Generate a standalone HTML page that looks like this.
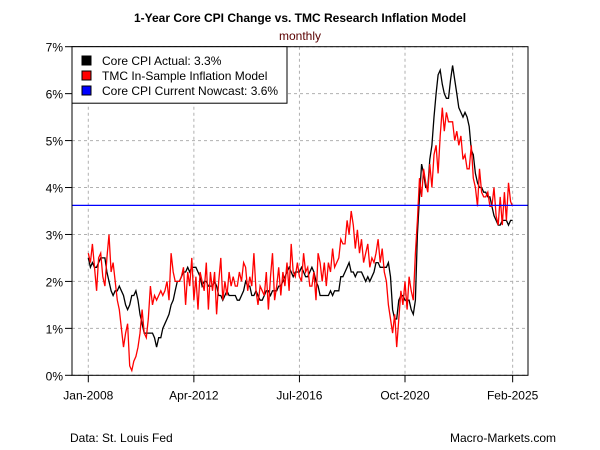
<!DOCTYPE html>
<html><head><meta charset="utf-8"><style>
body{margin:0;background:#fff;}
svg{display:block;font-family:"Liberation Sans",Arial,sans-serif;}
</style></head><body>
<svg id="chart" width="600" height="450">
<text x="300" y="22" text-anchor="middle" font-size="12" font-weight="bold">1-Year Core CPI Change vs. TMC Research Inflation Model</text>
<text x="300" y="40" text-anchor="middle" font-size="12" fill="#5a0000">monthly</text>
<g id="grid"></g>
<g id="yaxis"></g>
<g id="xaxis"></g>
<g id="series"></g>
<rect x="72" y="46.7" width="456" height="328.6" fill="none" stroke="#000"/>
<g>
<rect x="72" y="46.7" width="215" height="56.5" fill="#fff" stroke="#000"/>
<rect x="82" y="56" width="9" height="9" fill="#000" stroke="#000"/>
<text x="102" y="65" font-size="12">Core CPI Actual: 3.3%</text>
<rect x="82" y="71" width="9" height="9" fill="#f00" stroke="#000"/>
<text x="102" y="80" font-size="12">TMC In-Sample Inflation Model</text>
<rect x="82" y="86" width="9" height="9" fill="#00f" stroke="#000"/>
<text x="102" y="95" font-size="12">Core CPI Current Nowcast: 3.6%</text>
</g>
<text x="70" y="442" font-size="12">Data: St. Louis Fed</text>
<text x="556" y="442" text-anchor="end" font-size="12">Macro-Markets.com</text>
</svg>
<script>
const yTicks=[0,1,2,3,4,5,6,7];
const yTickLabels=["0%","1%","2%","3%","4%","5%","6%","7%"];
const xTickMonths=[0,51,102,153,205];
const xTickLabels=["Jan-2008","Apr-2012","Jul-2016","Oct-2020","Feb-2025"];
const nowcast=3.62;
const actual=[2.5,2.3,2.4,2.3,2.3,2.4,2.5,2.5,2.5,2.2,2.0,1.8,
1.7,1.8,1.8,1.9,1.8,1.7,1.5,1.4,1.5,1.7,1.7,1.8,
1.6,1.3,1.1,0.9,0.9,0.9,0.9,0.9,0.8,0.6,0.8,0.8,
1.0,1.1,1.2,1.3,1.5,1.6,1.8,2.0,2.0,2.1,2.2,2.2,
2.3,2.2,2.3,2.3,2.3,2.2,2.1,1.9,2.0,2.0,1.9,1.9,
1.9,2.0,1.9,1.7,1.7,1.6,1.7,1.8,1.7,1.7,1.7,1.7,
1.6,1.6,1.7,1.8,2.0,1.9,1.9,1.7,1.7,1.8,1.7,1.6,
1.6,1.7,1.8,1.8,1.7,1.8,1.8,1.8,1.9,1.9,2.0,2.1,
2.2,2.3,2.2,2.1,2.2,2.2,2.2,2.3,2.2,2.1,2.1,2.2,
2.3,2.2,2.0,1.9,1.7,1.7,1.7,1.7,1.7,1.8,1.7,1.8,
1.8,1.8,2.1,2.1,2.2,2.3,2.4,2.2,2.2,2.1,2.2,2.2,
2.2,2.1,2.0,2.1,2.0,2.1,2.2,2.4,2.4,2.3,2.3,2.3,
2.3,2.4,2.1,1.4,1.2,1.2,1.6,1.7,1.7,1.6,1.6,1.6,
1.4,1.3,1.6,3.0,3.8,4.5,4.3,4.0,4.0,4.6,4.9,5.5,
6.0,6.4,6.5,6.2,6.0,5.9,5.9,6.3,6.6,6.3,6.0,5.7,
5.6,5.5,5.6,5.5,5.3,4.8,4.7,4.3,4.1,4.0,4.0,3.9,
3.9,3.8,3.8,3.6,3.4,3.3,3.2,3.2,3.3,3.3,3.3,3.2,
3.3,3.3];
const model=[2.6,2.4,2.8,2.3,1.8,2.5,2.6,2.1,1.9,2.5,3.0,2.2,
2.4,2.0,1.6,1.4,1.0,0.6,0.9,1.1,0.2,0.1,0.3,0.4,
0.6,0.9,1.4,0.9,0.8,1.2,1.9,1.5,1.7,1.6,1.7,1.8,
1.7,1.8,2.0,1.6,2.6,2.2,2.0,2.0,2.0,2.1,2.3,1.5,
2.2,1.9,2.5,1.6,2.1,1.4,2.2,2.0,1.8,2.4,1.4,2.2,
1.8,2.2,1.3,2.0,2.5,1.6,2.0,1.7,2.2,1.9,2.1,1.9,
1.9,2.2,2.0,2.4,2.3,1.8,2.1,1.9,2.6,1.8,1.5,1.9,
1.8,1.7,2.2,1.4,2.1,2.6,1.6,1.9,2.3,1.7,2.2,1.9,
2.4,1.8,2.8,2.2,2.1,2.4,2.1,2.0,2.6,2.2,2.3,1.9,
1.9,2.2,1.6,2.6,2.4,2.0,2.4,1.9,2.4,2.2,2.7,2.3,
2.4,2.5,2.9,2.8,2.8,3.3,3.0,3.5,3.2,2.7,3.1,2.6,
2.9,2.4,2.6,2.8,2.3,2.5,2.4,2.6,2.9,2.4,2.7,2.2,
2.0,1.5,1.2,0.9,1.3,0.6,1.2,1.8,1.5,2.0,1.4,2.1,
1.8,1.6,2.6,3.3,4.2,3.8,4.4,4.1,3.9,4.5,4.0,4.7,
4.9,4.3,5.1,5.7,5.2,5.6,5.4,5.4,5.4,5.0,5.2,4.9,
5.1,4.6,4.7,4.4,4.4,4.9,4.2,4.0,3.6,4.4,3.9,3.8,
3.8,3.9,3.6,3.6,4.0,3.4,3.2,3.8,3.2,3.9,3.3,4.1,
3.7,3.6];

const NS="http://www.w3.org/2000/svg";
const L=72,R=528,T=46.7,B=375.3;
const x0=88.3,mpx=2.07;
function xs(m){return x0+m*mpx;}
function ys(v){return B-(v/7)*(B-T);}
function mk(tag,attrs,parent){const e=document.createElementNS(NS,tag);for(const k in attrs)e.setAttribute(k,attrs[k]);parent.appendChild(e);return e;}
const grid=document.getElementById('grid'),ya=document.getElementById('yaxis'),xa=document.getElementById('xaxis'),sg=document.getElementById('series');
yTicks.forEach((v,i)=>{
  const y=ys(v);
  const g=mk('line',{x1:L,x2:R,y1:y,y2:y,stroke:'#b0b0b0','stroke-dasharray':'3,3'},grid);
  
  
  const t=mk('line',{x1:L-7,x2:L,y1:y,y2:y,stroke:'#000'},ya);
  
  
  const tx=mk('text',{x:L-9,y:y+5,'text-anchor':'end','font-size':12},ya);
  tx.textContent=yTickLabels[i];
  
  
});
xTickMonths.forEach((m,i)=>{
  const x=xs(m);
  const g=mk('line',{x1:x,x2:x,y1:T,y2:B,stroke:'#b0b0b0','stroke-dasharray':'3,3'},grid);
  
  
  const t=mk('line',{x1:x,x2:x,y1:B,y2:B+7,stroke:'#000'},xa);
  
  
  const tx=mk('text',{x:x,y:B+24,'text-anchor':'middle','font-size':12},xa);
  tx.textContent=xTickLabels[i];
  
  
});
function path(arr,color,name){
  const d=arr.map((v,i)=>(i?'L':'M')+xs(i).toFixed(1)+' '+ys(v).toFixed(1)).join(' ');
  const p=mk('path',{d:d,fill:'none',stroke:color,'stroke-width':1.3},sg);
  
  
}
path(actual,'#000','core-cpi-actual-line');
path(model,'#f00','tmc-model-line');
const nl=mk('line',{x1:L,x2:R,y1:ys(nowcast),y2:ys(nowcast),stroke:'#00f','stroke-width':1.2},sg);


</script>
</body></html>
